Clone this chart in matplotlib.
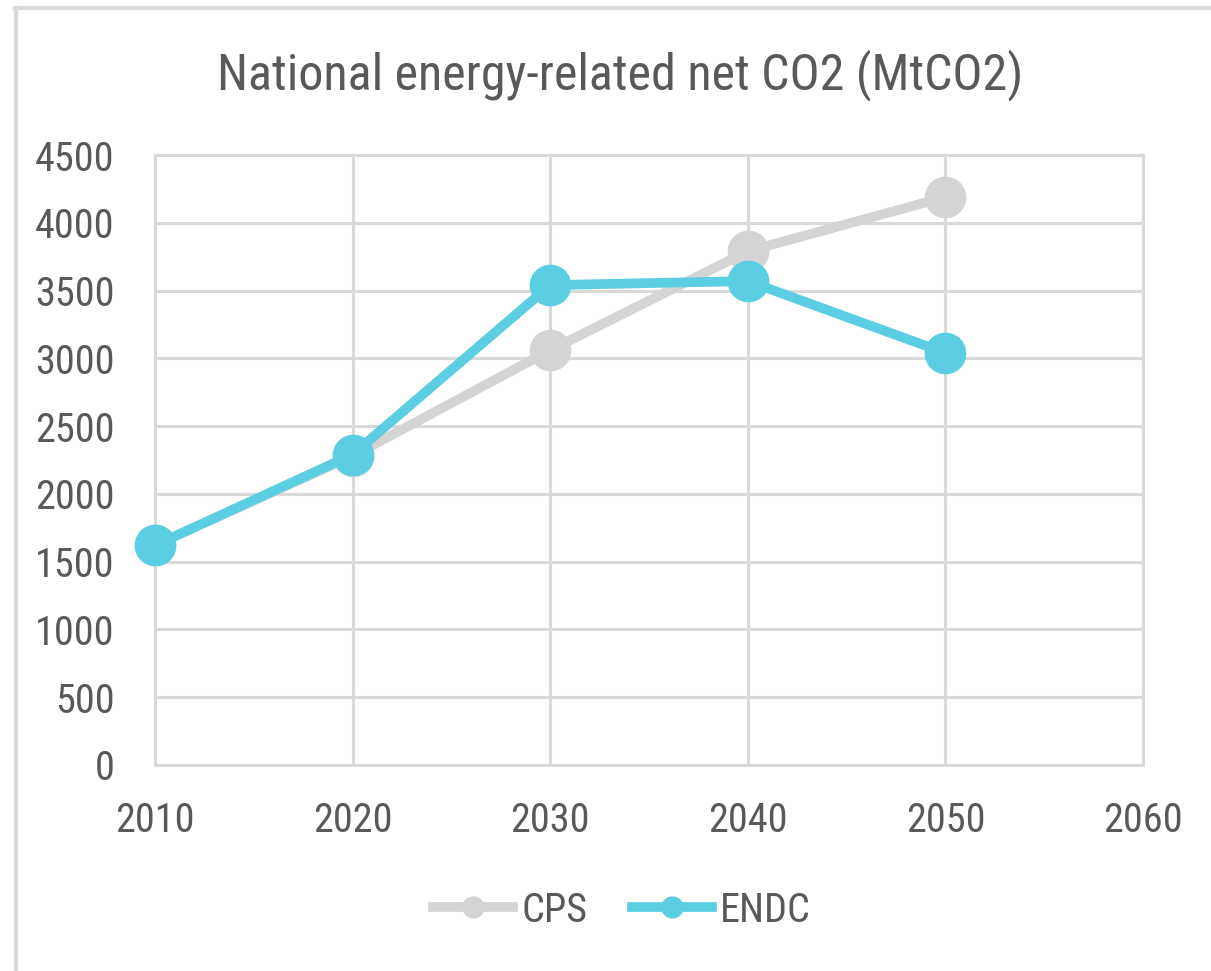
import matplotlib
matplotlib.use("Agg")
import matplotlib.pyplot as plt
from matplotlib.lines import Line2D

# Series data
years = [2010, 2020, 2030, 2040, 2050]
cps = [1620, 2280, 3060, 3790, 4190]
endc = [1620, 2290, 3540, 3570, 3040]

x_ticks = [2010, 2020, 2030, 2040, 2050, 2060]
y_ticks = [0, 500, 1000, 1500, 2000, 2500, 3000, 3500, 4000, 4500]

title = "National energy-related net CO2 (MtCO2)"

GRAY = "#D4D4D4"
CYAN = "#5BCEE3"
GRID = "#D9D9D9"
TEXT = "#595959"

plt.rcParams["font.family"] = ["Roboto Condensed", "DejaVu Sans"]
plt.rcParams["font.stretch"] = "condensed"

W, H = 1211, 971
fig = plt.figure(figsize=(W / 100, H / 100), dpi=100)
fig.patch.set_facecolor("white")

ax = fig.add_axes([155 / W, 1 - 765 / H, (1143 - 155) / W, (765 - 155) / H])

ax.plot(years, cps, color=GRAY, lw=7, marker="o", ms=29,
        solid_capstyle="round", clip_on=False, zorder=3)
ax.plot(years, endc, color=CYAN, lw=7, marker="o", ms=29,
        solid_capstyle="round", clip_on=False, zorder=4)

ax.set_xlim(2010, 2060)
ax.set_ylim(0, 4500)
ax.set_xticks(x_ticks)
ax.set_yticks(y_ticks)
ax.set_xticklabels([str(v) for v in x_ticks])
ax.set_yticklabels([str(v) for v in y_ticks])

ax.grid(True, color=GRID, lw=2.2, zorder=0)
ax.set_axisbelow(True)
for s in ax.spines.values():
    s.set_color(GRID)
    s.set_linewidth(2.2)
ax.tick_params(axis="both", length=0, labelsize=29, labelcolor=TEXT)
ax.tick_params(axis="x", pad=26)
ax.tick_params(axis="y", pad=29)

fig.text(620 / W, 1 - 75 / H, title, ha="center", va="center",
         fontsize=36, color=TEXT)

handles = [
    Line2D([], [], color=GRAY, lw=7, marker="o", ms=15),
    Line2D([], [], color=CYAN, lw=7, marker="o", ms=15),
]
fig.legend(handles, ["CPS", "ENDC"], loc="center",
           bbox_to_anchor=(622 / W, 1 - 910 / H), ncol=2, frameon=False,
           fontsize=29, labelcolor=TEXT, handlelength=2.0,
           handletextpad=0.2, columnspacing=1.1)

# Outer frame edges (top and left)
fig.add_artist(Line2D([16 / W, 16 / W], [0, 1 - 8 / H],
                      transform=fig.transFigure, color=GRID, lw=3))
fig.add_artist(Line2D([15 / W, 1], [1 - 8 / H, 1 - 8 / H],
                      transform=fig.transFigure, color=GRID, lw=3))

fig.savefig("out.png", dpi=100, facecolor="white")
